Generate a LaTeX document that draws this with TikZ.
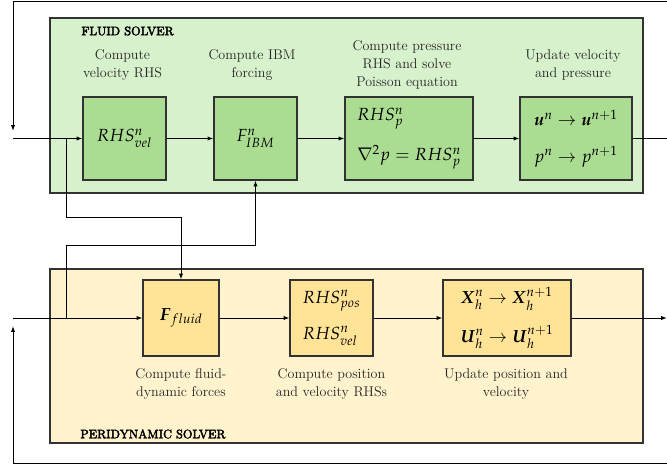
\documentclass[tikz,border=0pt]{standalone}
\usepackage{amsmath}
\usepackage{mathpazo}
\usetikzlibrary{arrows.meta}

\definecolor{edge}{RGB}{50,50,50}
\definecolor{fluidbg}{RGB}{214,241,203}
\definecolor{fluidin}{RGB}{170,221,145}
\definecolor{peribg}{RGB}{255,243,206}
\definecolor{periin}{RGB}{255,227,150}

\newcommand{\heavytitle}[1]{\special{pdf:literal direct 2 Tr 0.35 w}#1\special{pdf:literal direct 0 Tr}}

\begin{document}
\begin{tikzpicture}[
    x=0.03cm, y=-0.03cm,
    line width=0.8pt,
    >={Latex[length=5pt,width=3.6pt]},
    every node/.style={font=\fontsize{12}{15.3}\selectfont},
    solverbox/.style={draw=edge, line width=1.1pt},
    stagebox/.style={draw=edge, line width=1pt, inner sep=2pt, font=\fontsize{15}{19}\selectfont},
    fluidstage/.style={stagebox, fill=fluidin, minimum height=2.49cm},
    peristage/.style={stagebox, fill=periin, minimum height=2.28cm},
    stagelabel/.style={align=center, text=black!85},
    solvertitle/.style={anchor=west, text=black, font=\fontfamily{ppl}\fontseries{b}\fontsize{10.5}{12}\selectfont}
]
\useasboundingbox (0,0) rectangle (667,469);

% Solver backgrounds
\draw[solverbox, fill=fluidbg] (50,18) rectangle (643,193);
\draw[solverbox, fill=peribg] (50,269) rectangle (643,443);
\node[solvertitle] (fluidtitle) at (77,31) {\heavytitle{FLUID SOLVER}};
\node[solvertitle] (perititle) at (76,434) {\heavytitle{PERIDYNAMIC SOLVER}};

% Fluid solver stages
\node[fluidstage, minimum width=2.49cm] (rhsvel) at (124.5,138.5) {$RHS^n_{vel}$};
\node[fluidstage, minimum width=2.49cm] (fibm) at (255.5,138.5) {$F^n_{IBM}$};
\node[fluidstage, minimum width=3.84cm, align=left] (rhsp) at (409,138.5)
    {$RHS^n_p$\\[13pt] $\nabla^2 p = RHS^n_p$};
\node[fluidstage, minimum width=3.36cm, align=left] (updvp) at (576,138.5)
    {$\boldsymbol{u}^n \rightarrow \boldsymbol{u}^{n+1}$\\[12pt] $p^n \rightarrow p^{n+1}$};

% Fluid solver labels
\node[stagelabel] (lblrhsvel) at (122.5,65) {Compute\\velocity RHS};
\node[stagelabel] (lblfibm) at (252,65) {Compute IBM\\forcing};
\node[stagelabel] (lblrhsp) at (407,65) {Compute pressure\\RHS and solve\\Poisson equation};
\node[stagelabel] (lblupdvp) at (573,65) {Update velocity\\and pressure};

% Peridynamic solver stages
\node[peristage, minimum width=2.28cm] (ffluid) at (181,318) {$\boldsymbol{F}_{fluid}$};
\node[peristage, minimum width=2.49cm, align=left] (rhspv) at (331.5,318)
    {$RHS^n_{pos}$\\[12pt] $RHS^n_{vel}$};
\node[peristage, minimum width=3.84cm, align=left] (updxu) at (507,318)
    {$\boldsymbol{X}^n_h \rightarrow \boldsymbol{X}^{n+1}_h$\\[12pt] $\boldsymbol{U}^n_h \rightarrow \boldsymbol{U}^{n+1}_h$};

% Peridynamic solver labels
\node[stagelabel] (lblffluid) at (181,384) {Compute fluid-\\dynamic forces};
\node[stagelabel] (lblrhspv) at (331.5,384) {Compute position\\and velocity RHSs};
\node[stagelabel] (lblupdxu) at (506,384) {Update position and\\velocity};

% Loop and branch points
\coordinate (topin) at (13,138.5);
\coordinate (botin) at (13,318);
\coordinate (topout) at (667,138.5);
\coordinate (botout) at (667,318);
\coordinate (looptr) at (667,1.5);
\coordinate (looptl) at (13,1.5);
\coordinate (looptend) at (13,131);
\coordinate (loopbr) at (667,463);
\coordinate (loopbl) at (13,463);
\coordinate (loopbend) at (13,326);
\coordinate (splita) at (66,138.5);
\coordinate (kneea) at (66,217);
\coordinate (splitb) at (66,318);
\coordinate (kneeb) at (66,245);

% Time loop returns
\draw[->] (looptr) -- (looptl) -- (looptend);
\draw[->] (loopbr) -- (loopbl) -- (loopbend);

% Fluid chain
\draw[->] (topin) -- (rhsvel);
\draw[->] (rhsvel) -- (fibm);
\draw[->] (fibm) -- (rhsp);
\draw[->] (rhsp) -- (updvp);
\draw (updvp) -- (topout);

% Peridynamic chain
\draw[->] (botin) -- (ffluid);
\draw[->] (ffluid) -- (rhspv);
\draw[->] (rhspv) -- (updxu);
\draw[->] (updxu) -- (botout);

% Coupling between the solvers
\draw[->] (splita) -- (kneea) -| (ffluid.north);
\draw[->] (splitb) -- (kneeb) -| (fibm.south);

\end{tikzpicture}
\end{document}
